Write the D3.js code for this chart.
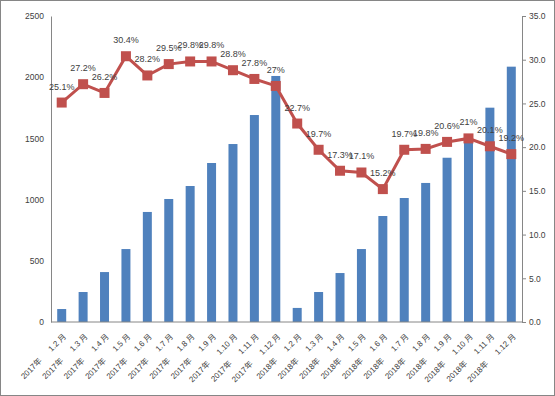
<!DOCTYPE html>
<html>
<head>
<meta charset="utf-8">
<script src="https://cdn.jsdelivr.net/npm/d3@7"></script>
<style>
  body { margin: 0; background: #fff; }
  text { font-family: "Liberation Sans", Arial, "Noto Sans CJK SC", sans-serif; fill: #404040; }
</style>
</head>
<body>
<script>
let years = ["2017年","2017年","2017年","2017年","2017年","2017年","2017年","2017年","2017年","2017年","2017年",
             "2018年","2018年","2018年","2018年","2018年","2018年","2018年","2018年","2018年","2018年","2018年"];
let months = ["1.2 月","1.3 月","1.4 月","1.5 月","1.6 月","1.7 月","1.8 月","1.9 月","1.10 月","1.11 月","1.12 月",
              "1.2 月","1.3 月","1.4 月","1.5 月","1.6 月","1.7 月","1.8 月","1.9 月","1.10 月","1.11 月","1.12 月"];
let amounts = [106,245,408,596,899,1005,1111,1299,1454,1691,2010,
               115,245,400,596,866,1013,1136,1342,1520,1751,2086];
let rates = [25.1,27.2,26.2,30.4,28.2,29.5,29.8,29.8,28.8,27.8,27,
             22.7,19.7,17.3,17.1,15.2,19.7,19.8,20.6,21,20.1,19.2];
let leftTicks = [0,500,1000,1500,2000,2500];
let rightTicks = [0,5,10,15,20,25,30,35];

let W = 555, H = 396;
let margin = {left: 51, right: 33, top: 16, bottom: 74};
let w = W - margin.left - margin.right;
let h = H - margin.top - margin.bottom;

let svg = d3.select("body").append("svg").attr("width", W).attr("height", H);

svg.append("rect")
   .attr("x", 0.5).attr("y", 0.5).attr("width", W - 1).attr("height", H - 1)
   .attr("fill", "#fff").attr("stroke", "#868686");

let chartGroup = svg.append("g").attr("transform", "translate(" + margin.left + "," + margin.top + ")");

let idx = d3.range(amounts.length);

let x = d3.scaleBand().domain(idx).range([0, w]).paddingInner(0.58).paddingOuter(0.29);
let y = d3.scaleLinear().domain([0, 2500]).range([h, 0]);
let y2 = d3.scaleLinear().domain([0, 35]).range([h, 0]);
let cx = i => x(i) + x.bandwidth() / 2;

// bars
chartGroup.selectAll("rect.bar")
  .data(amounts)
  .enter().append("rect")
    .attr("class", "bar")
    .attr("x", (d, i) => x(i))
    .attr("y", d => y(d))
    .attr("width", x.bandwidth())
    .attr("height", d => h - y(d))
    .attr("fill", "#4F81BD");

// left axis
let yAxis = d3.axisLeft(y).tickValues(leftTicks).tickSize(0).tickPadding(7).tickFormat(d3.format("d"));
let gy = chartGroup.append("g").call(yAxis);
gy.select(".domain").attr("stroke", "#868686");
gy.selectAll("text").style("font-size", "8.5px").style("fill", "#404040");

// right axis
let y2Axis = d3.axisRight(y2).tickValues(rightTicks).tickSize(4).tickPadding(3).tickFormat(d3.format(".1f"));
let gy2 = chartGroup.append("g").attr("transform", "translate(" + w + ",0)").call(y2Axis);
gy2.select(".domain").attr("stroke", "#868686");
gy2.selectAll("line").attr("stroke", "#868686");
gy2.selectAll("text").style("font-size", "8.5px").style("fill", "#404040");

// bottom axis line
chartGroup.append("line")
  .attr("x1", 0).attr("x2", w).attr("y1", h).attr("y2", h)
  .attr("stroke", "#868686");

// category labels
let lab = chartGroup.selectAll("text.cat")
  .data(idx)
  .enter().append("text")
    .attr("class", "cat")
    .attr("text-anchor", "end")
    .attr("transform", i => "translate(" + (cx(i) + 5) + "," + (h + 15) + ") rotate(-45)")
    .style("font-size", "8px");
lab.append("tspan").text(i => years[i]);
lab.append("tspan").attr("dx", 13).text(i => months[i]);

// line
let line = d3.line().x((d, i) => cx(i)).y(d => y2(d));
chartGroup.append("path")
  .datum(rates)
  .attr("d", line)
  .attr("fill", "none")
  .attr("stroke", "#C0504D")
  .attr("stroke-width", 3);

chartGroup.selectAll("rect.mark")
  .data(rates)
  .enter().append("rect")
    .attr("class", "mark")
    .attr("x", (d, i) => cx(i) - 5)
    .attr("y", d => y2(d) - 5)
    .attr("width", 10).attr("height", 10)
    .attr("fill", "#C0504D");

chartGroup.selectAll("text.val")
  .data(rates)
  .enter().append("text")
    .attr("class", "val")
    .attr("text-anchor", "middle")
    .attr("x", (d, i) => cx(i))
    .attr("y", d => y2(d) - 13)
    .style("font-size", "9px")
    .text(d => d + "%");
</script>
</body>
</html>
